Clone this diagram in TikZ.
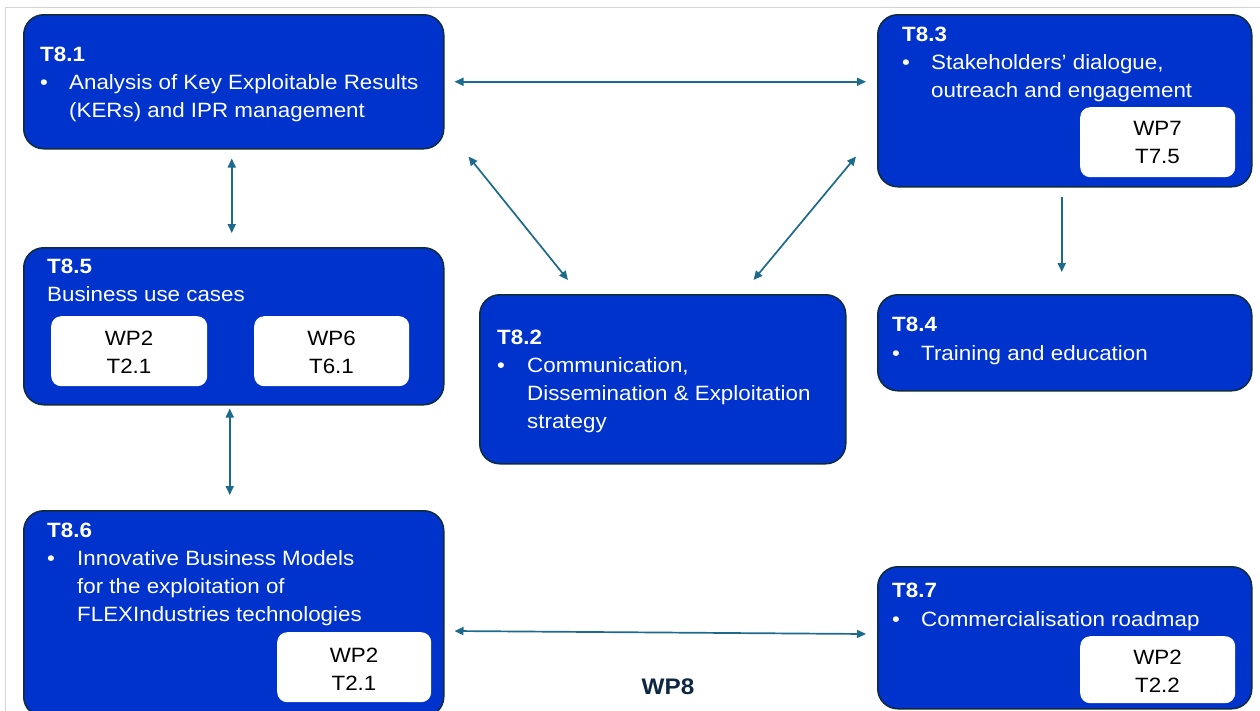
\documentclass[tikz,border=0pt]{standalone}
\usepackage{fontspec}
\setmainfont[FakeStretch=1.08]{Liberation Sans}
\usetikzlibrary{arrows.meta,calc}
\definecolor{taskblue}{HTML}{0033CC}
\definecolor{taskedge}{HTML}{0F2B3C}
\definecolor{linkcol}{HTML}{1D6A8C}
\definecolor{wpnavy}{HTML}{0E2841}
\definecolor{framegray}{HTML}{D4D4D4}
\begin{document}
\begin{tikzpicture}[x=1pt,y=-1pt,
  taskbox/.style={draw=taskedge, line width=1.5pt, fill=taskblue, rounded corners=20pt,
    anchor=north west, inner sep=0pt},
  wpbox/.style={fill=white, rounded corners=10pt, anchor=north west, inner sep=0pt},
  head/.style={anchor=base west, inner sep=0pt, text=white, font=\fontsize{20.7}{28}\selectfont\bfseries},
  body/.style={anchor=base west, inner sep=0pt, text=white, font=\fontsize{20.7}{28}\selectfont},
  wptext/.style={anchor=base, inner sep=0pt, text=black, font=\fontsize{20.7}{28}\selectfont},
  tip/.tip={Triangle[length=9pt,width=8pt]},
  link/.style={draw=linkcol, line width=1.7pt, tip-tip},
  onelink/.style={draw=linkcol, line width=1.7pt, -tip},
]
\useasboundingbox (0,0) rectangle (1260,710);
\fill[white] (0,0) rectangle (1260,710);
% thin page frame
\draw[framegray, line width=1pt] (5,712) -- (5,7) -- (1262,7);

% ---------- T8.1
\node[taskbox, minimum width=420pt, minimum height=134pt] (t81) at (23,14) {};
\node[head] (t81h) at (40,61) {T8.1};
\node[body] (t81d) at (40,89) {•};
\node[body] (t81a) at (69,89) {Analysis of Key Exploitable Results};
\node[body] (t81b) at (69,117) {(KERs) and IPR management};

% ---------- T8.3
\node[taskbox, minimum width=374pt, minimum height=172pt] (t83) at (877,14) {};
\node[head] (t83h) at (902,41) {T8.3};
\node[body] (t83d) at (902,69) {•};
\node[body] (t83a) at (931,69) {Stakeholders’ dialogue,};
\node[body] (t83b) at (931,97) {outreach and engagement};
\node[wpbox, minimum width=155pt, minimum height=70pt] (w75) at (1080,107) {};
\node[wptext] (w75a) at (1157.5,135) {WP7};
\node[wptext] (w75b) at (1157.5,163) {T7.5};

% ---------- T8.5
\node[taskbox, minimum width=420pt, minimum height=157pt] (t85) at (23,247) {};
\node[head] (t85h) at (47,273) {T8.5};
\node[body] (t85a) at (47,301) {Business use cases};
\node[wpbox, minimum width=156pt, minimum height=70pt] (w21) at (51,316) {};
\node[wptext] (w21a) at (129,345) {WP2};
\node[wptext] (w21b) at (129,373) {T2.1};
\node[wpbox, minimum width=155pt, minimum height=70pt] (w61) at (254,316) {};
\node[wptext] (w61a) at (331.5,345) {WP6};
\node[wptext] (w61b) at (331.5,373) {T6.1};

% ---------- T8.2
\node[taskbox, minimum width=366pt, minimum height=169pt] (t82) at (479,294) {};
\node[head] (t82h) at (497,344) {T8.2};
\node[body] (t82d) at (497,372) {•};
\node[body] (t82a) at (527,372) {Communication,};
\node[body] (t82b) at (527,400) {Dissemination \& Exploitation};
\node[body] (t82c) at (527,428) {strategy};

% ---------- T8.4
\node[taskbox, minimum width=374pt, minimum height=96pt] (t84) at (877,294) {};
\node[head] (t84h) at (892,331) {T8.4};
\node[body] (t84d) at (892,360) {•};
\node[body] (t84a) at (921,360) {Training and education};

% ---------- T8.6
\node[taskbox, minimum width=420pt, minimum height=206pt] (t86) at (23,510) {};
\node[head] (t86h) at (47,537) {T8.6};
\node[body] (t86d) at (47,565) {•};
\node[body] (t86a) at (77,565) {Innovative Business Models};
\node[body] (t86b) at (77,593) {for the exploitation of};
\node[body] (t86c) at (77,621) {FLEXIndustries technologies};
\node[wpbox, minimum width=154pt, minimum height=70pt] (w21c) at (277,632) {};
\node[wptext] (w21ca) at (354,662) {WP2};
\node[wptext] (w21cb) at (354,690) {T2.1};

% ---------- T8.7
\node[taskbox, minimum width=374pt, minimum height=142pt] (t87) at (877,566) {};
\node[head] (t87h) at (892,597) {T8.7};
\node[body] (t87d) at (892,626) {•};
\node[body] (t87a) at (921,626) {Commercialisation roadmap};
\node[wpbox, minimum width=155pt, minimum height=67pt] (w22) at (1080,636) {};
\node[wptext] (w22a) at (1157.5,664) {WP2};
\node[wptext] (w22b) at (1157.5,692) {T2.2};

% ---------- work package label
\node[anchor=base, inner sep=0pt, text=wpnavy, font=\fontsize{22.5}{26}\selectfont\bfseries] (wp8) at (668,694) {WP8};

% ---------- links between tasks
\draw[link] ($(t81.east)+(10,0)$) -- ($(t81.east -| t83.west)+(-11,0)$);
\draw[link] ($(t81.south)+(-2,9)$) -- ($(t85.north)+(-2,-14)$);
\draw[link] ($(t81.south east)+(24,7)$) -- ($(t82.north west)+(89,-14)$);
\draw[link] ($(t83.south west)+(-21,-31)$) -- ($(t82.north east)+(-93,-14)$);
\draw[onelink] ($(t83.south)+(-3,9)$) -- ($(t84.north)+(-3,-22)$);
\draw[link] ($(t85.south)+(-4,3)$) -- ($(t86.north)+(-4,-15)$);
\draw[link] ($(t86.north east)+(10,121)$) -- ($(t87.north west)+(-11,68)$);
\end{tikzpicture}
\end{document}
